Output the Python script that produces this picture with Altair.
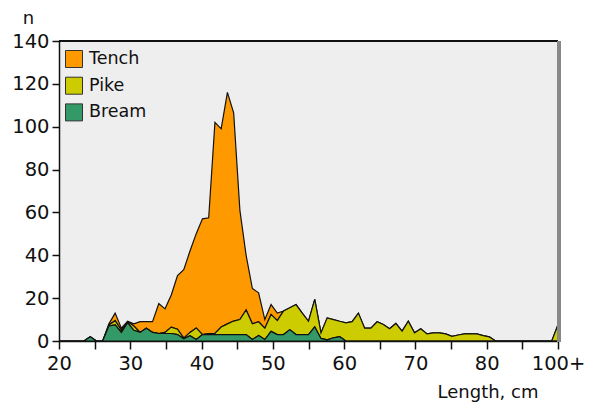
import altair as alt
import pandas as pd

# Catch by 1-cm length class; the last class (100) collects everything 100 cm and over
lengths = list(range(20, 101))

tench = [0, 0, 0, 0, 0, 0, 0, 0, 0.5, 3.5,
         1, 0.2, 1, 5, 3, 5, 14, 11, 15, 25,
         32, 38, 44, 54, 54, 98.5, 92.5, 108, 97.2, 51,
         25.5, 16.5, 13.5, 4, 4.6, 3.5, 0, 0, 0, 0,
         0, 0, 0, 0, 0, 0, 0, 0, 0, 0,
         0, 0, 0, 0, 0, 0, 0, 0, 0, 0,
         0, 0, 0, 0, 0, 0, 0, 0, 0, 0,
         0, 0, 0, 0, 0, 0, 0, 0, 0, 0,
         0]

pike = [0, 0, 0, 0, 0, 0, 0, 0, 0.5, 2,
        1, 0.5, 2, 0, 0, 0, 0, 0.5, 3, 2.5,
        0.3, 1.5, 5.4, 0, 0.5, 0.5, 3.5, 5, 6.3, 7,
        11.5, 7.3, 6.4, 5.3, 7.9, 6.5, 11, 10.2, 14, 10,
        6.2, 12.8, 2.6, 10.3, 8.5, 7.2, 8.5, 9, 13, 6,
        6, 9, 7.7, 5.7, 8.2, 4.6, 9.2, 3.8, 5.7, 3.3,
        3.8, 3.8, 3.3, 2.2, 2.8, 3.3, 3.3, 3.3, 2.5, 1.9,
        0, 0, 0, 0, 0, 0, 0, 0, 0, 0,
        7.6]

bream = [0, 0, 0, 0, 0, 2, 0, 0, 7, 7.5,
         4, 8.5, 5, 4, 6, 4, 3.5, 3.5, 3.5, 3,
         1, 2.5, 0.7, 3, 3, 3, 3, 3, 3, 3,
         3, 0.7, 2.6, 0.7, 4.5, 3, 3, 5.3, 3, 3,
         3, 6.6, 1.2, 0.5, 1.5, 2, 0, 0, 0, 0,
         0, 0, 0, 0, 0, 0, 0, 0, 0, 0,
         0, 0, 0, 0, 0, 0, 0, 0, 0, 0,
         0, 0, 0, 0, 0, 0, 0, 0, 0, 0,
         0]

species = ["Tench", "Pike", "Bream"]
colors = ["#FF9900", "#CCCC00", "#339966"]
stack_rank = {"Bream": 0, "Pike": 1, "Tench": 2}

rows = []
for name, vals in zip(species, [tench, pike, bream]):
    for length, v in zip(lengths, vals):
        rows.append({"length": length, "n": v, "species": name, "rank": stack_rank[name]})
df = pd.DataFrame(rows)

W, H = 499, 300
FONT = "DejaVu Sans"

# Eight evenly spaced labels (20 ... 80, 100+) with a minor tick between each pair
x_step = 80 / 14
x_ticks = [20 + k * x_step for k in range(15)]
k_expr = "round((datum.value - 20) / (80 / 14))"
x_label_expr = (
    f"({k_expr} % 2 == 1) ? '' : ({k_expr} == 14 ? '100+' : format(20 + 5 * {k_expr}, 'd'))"
)

areas = alt.Chart(df).mark_area(
    stroke="#111111", strokeWidth=1.2, interpolate="linear", opacity=1
).encode(
    x=alt.X(
        "length:Q",
        scale=alt.Scale(domain=[20, 100], nice=False, zero=False),
        axis=alt.Axis(
            values=x_ticks,
            labelExpr=x_label_expr,
            labelFlush=False,
            labelOverlap=False,
            title="Length, cm",
            titleX=479,
            titleY=56,
            titleAlign="right",
            titleBaseline="alphabetic",
            titleFontSize=18,
        ),
    ),
    y=alt.Y(
        "n:Q",
        stack="zero",
        scale=alt.Scale(domain=[0, 140], nice=False),
        axis=alt.Axis(
            values=list(range(0, 141, 20)),
            labelFlush=False,
            labelOverlap=False,
            title="n",
            titleAngle=0,
            titleX=-31,
            titleY=-18,
            titleAlign="center",
            titleBaseline="alphabetic",
            titleFontSize=18,
        ),
    ),
    color=alt.Color(
        "species:N",
        scale=alt.Scale(domain=species, range=colors),
        legend=alt.Legend(
            title=None,
            orient="none",
            legendX=6,
            legendY=9,
            symbolType="square",
            symbolSize=289,
            symbolStrokeColor="#333333",
            symbolStrokeWidth=1,
            symbolOpacity=1,
            labelFontSize=17.5,
            labelFont=FONT,
            labelColor="#111111",
            labelOffset=6,
            rowPadding=4.7,
            padding=0,
        ),
    ),
    order=alt.Order("rank:Q"),
)

top_edge = alt.Chart(df).mark_rule(color="#111111", strokeWidth=1.5).encode(
    x=alt.value(0), x2=alt.value(W), y=alt.value(0)
)
right_edge = alt.Chart(df).mark_rule(color="#888888", strokeWidth=3).encode(
    x=alt.value(W + 1), y=alt.value(0), y2=alt.value(H + 1)
)

chart = alt.layer(areas, top_edge, right_edge).properties(
    width=W,
    height=H,
    autosize=alt.AutoSizeParams(type="none"),
    padding={"left": 59, "top": 41, "right": 31, "bottom": 64},
    background="white",
).configure_view(
    fill="#EEEEEE", stroke=None
).configure_axis(
    grid=False,
    domainColor="#111111",
    domainWidth=1.5,
    tickColor="#111111",
    tickWidth=1.5,
    labelFont=FONT,
    labelFontSize=19.5,
    labelColor="#111111",
    titleFont=FONT,
    titleFontWeight="normal",
    titleColor="#111111",
).configure_axisX(
    tickSize=8, labelPadding=5
).configure_axisY(
    tickSize=7, labelPadding=3
)

chart.save("out.html", embed_options={"renderer": "svg", "actions": False})
